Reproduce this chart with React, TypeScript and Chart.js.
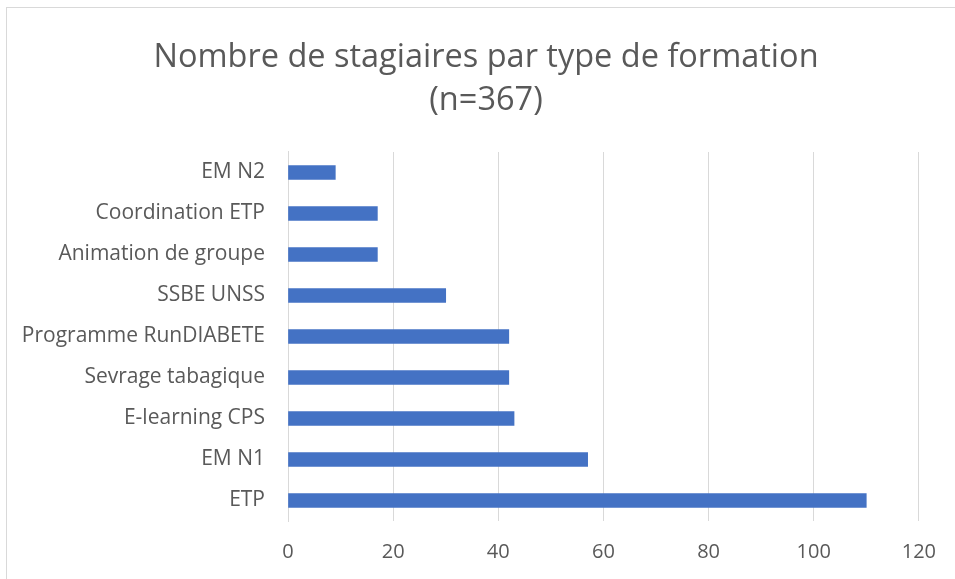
import React, { useEffect, useRef } from "react";
import { Chart, registerables } from "chart.js";

Chart.register(...registerables);

const categories = [
  "EM N2",
  "Coordination ETP",
  "Animation de groupe",
  "SSBE UNSS",
  "Programme RunDIABETE",
  "Sevrage tabagique",
  "E-learning CPS",
  "EM N1",
  "ETP",
];
const stagiaires = [9, 17, 17, 30, 42, 42, 43, 57, 110];
const titleLines = ["Nombre de stagiaires par type de formation", "(n=367)"];
const xMin = 0;
const xMax = 120;
const xStep = 20;

const FONT = "'Open Sans', sans-serif";
const TEXT = "#595959";
const GRID = "#d9d9d9";

export default function App() {
  const ref = useRef<HTMLCanvasElement | null>(null);

  useEffect(() => {
    if (!ref.current) return;
    const chart = new Chart(ref.current, {
      type: "bar",
      data: {
        labels: categories,
        datasets: [
          {
            data: stagiaires,
            backgroundColor: "#4472C4",
            borderWidth: 0,
            barThickness: 14,
            yAxisID: "y",
          },
        ],
      },
      options: {
        indexAxis: "y",
        responsive: false,
        animation: false,
        devicePixelRatio: 1,
        layout: { padding: { left: 17, right: 0, top: 0, bottom: 0 } },
        plugins: {
          legend: { display: false },
          tooltip: { enabled: false },
          title: {
            display: true,
            text: titleLines,
            color: TEXT,
            font: { family: FONT, size: 32.5, weight: "normal", lineHeight: 1.323 },
            padding: { top: 36, bottom: 30 },
          },
        },
        scales: {
          x: {
            min: xMin,
            max: xMax,
            ticks: {
              stepSize: xStep,
              color: TEXT,
              font: { family: FONT, size: 20 },
              padding: 19,
            },
            grid: { color: GRID, lineWidth: 1, drawTicks: false },
            border: { display: false },
            afterFit: (s: any) => {
              s.height = 58;
            },
          },
          y: {
            position: "left",
            ticks: {
              color: TEXT,
              font: { family: FONT, size: 21 },
              padding: 23,
            },
            grid: { display: false, drawTicks: false },
            border: { display: true, color: GRID, width: 1 },
            afterFit: (s: any) => {
              s.width = 271;
            },
          },
          yRight: {
            axis: "y",
            type: "category",
            position: "right",
            display: true,
            ticks: { display: false },
            grid: { display: false, drawTicks: false },
            border: { display: false },
            afterFit: (s: any) => {
              s.width = 35;
            },
          },
        },
      },
    });
    return () => chart.destroy();
  }, []);

  return (
    <div
      style={{
        position: "fixed",
        left: 0,
        top: 0,
        width: 955,
        height: 579,
        overflow: "hidden",
        background: "#ffffff",
      }}
    >
      <div
        style={{
          position: "absolute",
          left: 6,
          top: 7,
          width: 980,
          height: 620,
          border: `1px solid ${GRID}`,
          boxSizing: "border-box",
        }}
      />
      <canvas
        ref={ref}
        width={955}
        height={579}
        style={{ position: "absolute", left: 0, top: 0, width: 955, height: 579 }}
      />
    </div>
  );
}
